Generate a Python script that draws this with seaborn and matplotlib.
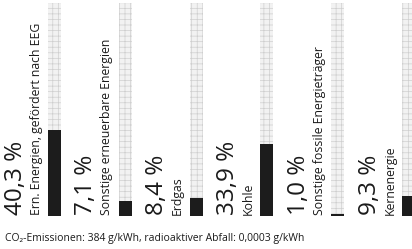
import matplotlib
matplotlib.use("Agg")
import matplotlib.pyplot as plt
import seaborn as sns
import pandas as pd

# Strommix data
categories = [
    "Ern. Energien, gefördert nach EEG",
    "Sonstige erneuerbare Energien",
    "Erdgas",
    "Kohle",
    "Sonstige fossile Energieträger",
    "Kernenergie",
]
shares = [40.3, 7.1, 8.4, 33.9, 1.0, 9.3]
share_labels = ["40,3 %", "7,1 %", "8,4 %", "33,9 %", "1,0 %", "9,3 %"]
caption = "CO₂-Emissionen: 384 g/kWh, radioaktiver Abfall: 0,0003 g/kWh"

df = pd.DataFrame({"cat": categories, "share": shares, "full": [100] * len(shares)})

sns.set_style("white")
plt.rcParams["font.family"] = ["Open Sans", "DejaVu Sans"]
plt.rcParams["hatch.linewidth"] = 0.5

fig = plt.figure(figsize=(4.12, 2.49), dpi=100)
ax = fig.add_axes([0, 33 / 249, 1, 213 / 249])

bw = 13 / 70.8
sns.barplot(data=df, x="cat", y="full", color="#f2f2f2", width=bw, ax=ax,
            saturation=1)
sns.barplot(data=df, x="cat", y="share", color="#1c1c1c", width=bw, ax=ax,
            saturation=1)
n = len(shares)
for p in ax.patches[:n]:
    # dotted grey background column
    p.set_hatch("+++")
    p.set_edgecolor("#cfcfcf")
    p.set_linewidth(0)
for p in ax.patches[n:]:
    p.set_edgecolor("none")

for i, (cat, lab) in enumerate(zip(categories, share_labels)):
    ax.text(i - 0.55, 0.5, lab, rotation=90, ha="center", va="bottom",
            fontsize=17.5, color="#1a1a1a")
    ax.text(i - 0.26, 0.5, cat, rotation=90, ha="center", va="bottom",
            fontsize=8.8, color="#1a1a1a")

ax.set_xlim(-54.5 / 70.8, (412 - 54.5) / 70.8)
ax.set_ylim(0, 100)
ax.axis("off")

fig.text(5 / 412, 1 - 238 / 249, caption, ha="left", va="center",
         fontsize=7.5, color="#1a1a1a")

fig.savefig("out.png", dpi=100)
